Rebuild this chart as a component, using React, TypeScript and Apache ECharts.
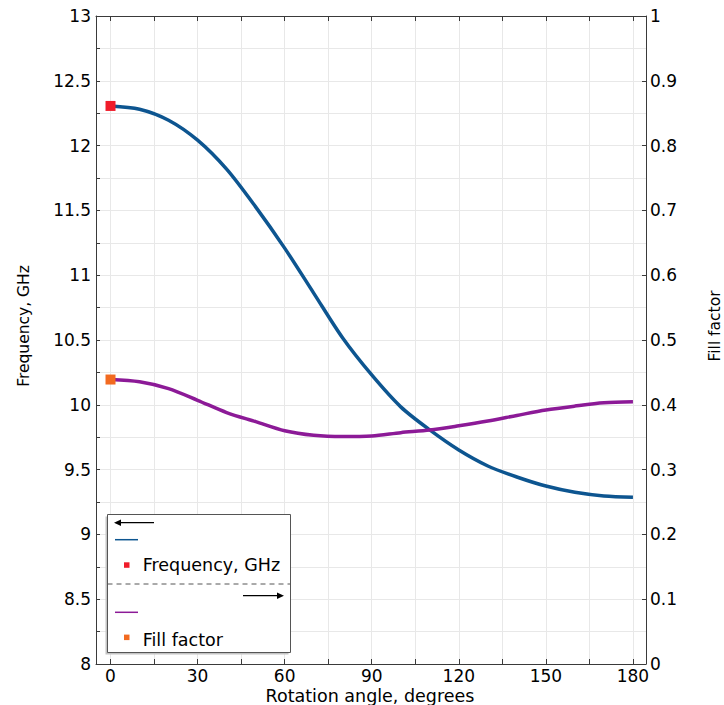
import React, { useEffect, useRef } from "react";
import * as echarts from "echarts";

const angles = [0, 10, 20, 30, 40, 50, 60, 70, 80, 90, 100, 110, 120, 130, 140, 150, 160, 170, 180];
const frequency = [12.306, 12.281, 12.196, 12.042, 11.818, 11.527, 11.209, 10.862, 10.515, 10.23, 9.984, 9.806, 9.651, 9.528, 9.443, 9.373, 9.325, 9.297, 9.287];
const fillFactor = [0.439, 0.4355, 0.425, 0.407, 0.388, 0.374, 0.36, 0.353, 0.351, 0.352, 0.357, 0.361, 0.3676, 0.375, 0.3836, 0.392, 0.398, 0.403, 0.4046];
const xLabelValues = [0, 30, 60, 90, 120, 150, 180];
const xTickValues = [0, 15, 30, 45, 60, 75, 90, 105, 120, 135, 150, 165, 180];

const FONT = "DejaVu Sans";
const BLUE = "#0d5590";
const PURPLE = "#8c1a97";
const RED = "#f01c2a";
const ORANGE = "#f26a20";
const AXIS = "#3a3a3a";
const GRIDC = "#e8e8e8";

export default function App() {
  const ref = useRef<HTMLDivElement>(null);
  useEffect(() => {
    document.body.style.margin = "0";
    const chart = echarts.init(ref.current!, null, { renderer: "svg" });
    const freqData = angles.map((a, i) => [a, frequency[i]]);
    const ffData = angles.map((a, i) => [a, fillFactor[i]]);
    const axLine = { show: true, onZero: false, lineStyle: { color: AXIS, width: 1 } };
    chart.setOption({
      animation: false,
      textStyle: { fontFamily: FONT },
      grid: { left: 96, right: 78, top: 16, bottom: 41, containLabel: false },
      xAxis: [
        {
          type: "value", min: -5, max: 184.5, position: "bottom",
          axisLine: axLine,
          axisTick: { show: true, inside: true, length: 5, customValues: xTickValues, lineStyle: { color: AXIS } },
          axisLabel: { customValues: xLabelValues, fontSize: 17, margin: 3, color: "#000", fontFamily: FONT },
          splitLine: { show: true, lineStyle: { color: GRIDC, width: 1 } },
        },
        {
          type: "value", min: -5, max: 184.5, position: "top",
          axisLine: axLine,
          axisTick: { show: true, inside: true, length: 5, customValues: xTickValues, lineStyle: { color: AXIS } },
          axisLabel: { show: false },
          splitLine: { show: false },
        },
      ],
      yAxis: [
        {
          type: "value", min: 8, max: 13, interval: 0.5, position: "left",
          axisLine: axLine,
          axisTick: { show: true, inside: true, length: 4, lineStyle: { color: AXIS } },
          minorTick: { show: true, splitNumber: 2, length: 4, lineStyle: { color: AXIS } },
          axisLabel: { fontSize: 17, margin: 5, color: "#000", fontFamily: FONT },
          splitLine: { show: true, lineStyle: { color: GRIDC, width: 1 } },
          minorSplitLine: { show: true, lineStyle: { color: GRIDC, width: 1 } },
        },
        {
          type: "value", min: 0, max: 1, interval: 0.1, position: "right",
          axisLine: axLine,
          axisTick: { show: true, inside: true, length: 4, lineStyle: { color: AXIS } },
          axisLabel: { fontSize: 17, margin: 4, color: "#000", fontFamily: FONT },
          splitLine: { show: false },
        },
      ],
      series: [
        {
          type: "line", name: "Frequency, GHz", xAxisIndex: 0, yAxisIndex: 0, data: freqData,
          smooth: 0.3, symbol: "none", lineStyle: { color: BLUE, width: 3.5 }, z: 3,
        },
        {
          type: "line", name: "Fill factor", xAxisIndex: 0, yAxisIndex: 1, data: ffData,
          smooth: 0.3, symbol: "none", lineStyle: { color: PURPLE, width: 3.5 }, z: 3,
        },
        {
          type: "scatter", xAxisIndex: 0, yAxisIndex: 0, data: [freqData[0]],
          symbol: "rect", symbolSize: 10, itemStyle: { color: RED, opacity: 1 }, z: 5,
        },
        {
          type: "scatter", xAxisIndex: 0, yAxisIndex: 1, data: [ffData[0]],
          symbol: "rect", symbolSize: 10, itemStyle: { color: ORANGE, opacity: 1 }, z: 5,
        },
      ],
      graphic: [
        { type: "text", x: 24, y: 326, rotation: Math.PI / 2, style: { text: "Frequency, GHz", fontSize: 15.5, fontFamily: FONT, fill: "#000", align: "center", verticalAlign: "middle" } },
        { type: "text", x: 715, y: 326, rotation: Math.PI / 2, style: { text: "Fill factor", fontSize: 15.5, fontFamily: FONT, fill: "#000", align: "center", verticalAlign: "middle" } },
        { type: "text", x: 370, y: 696, style: { text: "Rotation angle, degrees", fontSize: 17.5, fontFamily: FONT, fill: "#000", align: "center", verticalAlign: "middle" } },
        { type: "rect", shape: { x: 105.5, y: 516.5, width: 183, height: 138 }, style: { fill: "#c4c4c4" }, z: 100 },
        { type: "rect", shape: { x: 107.5, y: 514.5, width: 183, height: 138 }, style: { fill: "#fff", stroke: "#555", lineWidth: 1 }, z: 101 },
        { type: "line", shape: { x1: 119, y1: 522.7, x2: 154, y2: 522.7 }, style: { stroke: "#000", lineWidth: 1.3 }, z: 102 },
        { type: "polygon", shape: { points: [[114, 522.7], [121, 519.5], [121, 526]] }, style: { fill: "#000" }, z: 102 },
        { type: "line", shape: { x1: 115, y1: 539.7, x2: 138, y2: 539.7 }, style: { stroke: BLUE, lineWidth: 1.5 }, z: 102 },
        { type: "rect", shape: { x: 124, y: 562.3, width: 5.5, height: 5.5 }, style: { fill: RED }, z: 102 },
        { type: "text", x: 142.7, y: 565, style: { text: "Frequency, GHz", fontSize: 17.5, fontFamily: FONT, fill: "#000", align: "left", verticalAlign: "middle" }, z: 102 },
        { type: "line", shape: { x1: 107.5, y1: 584, x2: 290.5, y2: 584 }, style: { stroke: "#555", lineWidth: 1, lineDash: [5, 4] }, z: 102 },
        { type: "line", shape: { x1: 243, y1: 595.7, x2: 278, y2: 595.7 }, style: { stroke: "#000", lineWidth: 1.3 }, z: 102 },
        { type: "polygon", shape: { points: [[284, 595.7], [277, 592.5], [277, 599]] }, style: { fill: "#000" }, z: 102 },
        { type: "line", shape: { x1: 115, y1: 612.3, x2: 138, y2: 612.3 }, style: { stroke: PURPLE, lineWidth: 1.5 }, z: 102 },
        { type: "rect", shape: { x: 124, y: 634.6, width: 5.5, height: 5.5 }, style: { fill: ORANGE }, z: 102 },
        { type: "text", x: 142.7, y: 640, style: { text: "Fill factor", fontSize: 17.5, fontFamily: FONT, fill: "#000", align: "left", verticalAlign: "middle" }, z: 102 },
      ],
    });
    return () => chart.dispose();
  }, []);
  return <div ref={ref} style={{ width: 724, height: 705 }} />;
}
